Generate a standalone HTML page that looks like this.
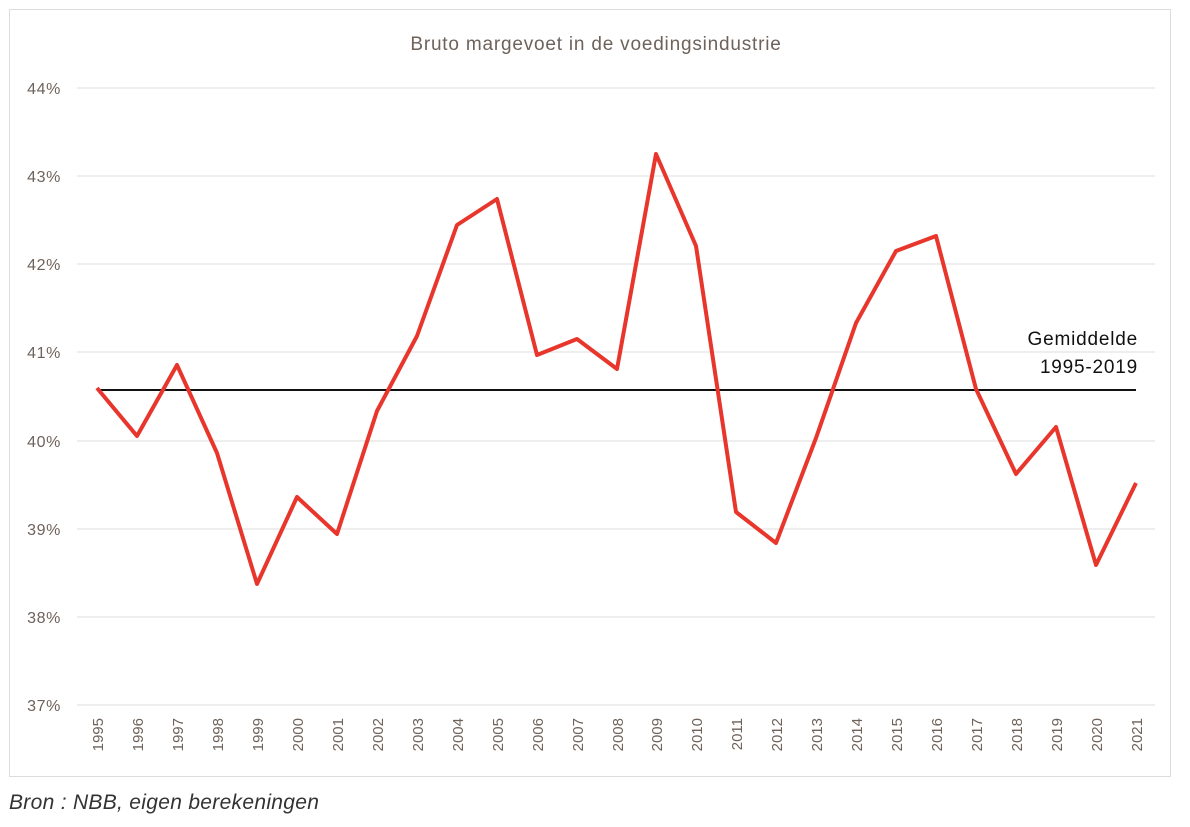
<!DOCTYPE html>
<html><head><style>
body{margin:0;background:#fff;width:1190px;height:827px;overflow:hidden}
svg{display:block;font-family:"Liberation Sans",sans-serif}
</style></head><body>
<svg width="1190" height="827" viewBox="0 0 1190 827">
<rect x="9.5" y="9.5" width="1161" height="767" fill="#fff" stroke="#dcdcdc"/>
<text x="596" y="50" text-anchor="middle" font-size="19" letter-spacing="0.8" fill="#6e625a">Bruto margevoet in de voedingsindustrie</text>
<g stroke="#dddddd" stroke-width="1">
<line x1="77" x2="1155" y1="88" y2="88"/><line x1="77" x2="1155" y1="176" y2="176"/>
<line x1="77" x2="1155" y1="264" y2="264"/><line x1="77" x2="1155" y1="352" y2="352"/>
<line x1="77" x2="1155" y1="441" y2="441"/><line x1="77" x2="1155" y1="529" y2="529"/>
<line x1="77" x2="1155" y1="617" y2="617"/><line x1="77" x2="1155" y1="705" y2="705"/>
</g>
<g font-size="16" letter-spacing="0.6" fill="#6e625a" text-anchor="end">
<text x="61" y="94">44%</text><text x="61" y="182">43%</text><text x="61" y="270">42%</text>
<text x="61" y="358">41%</text><text x="61" y="447">40%</text><text x="61" y="535">39%</text>
<text x="61" y="623">38%</text><text x="61" y="711">37%</text>
</g>
<line x1="97" x2="1136" y1="390" y2="390" stroke="#111" stroke-width="2"/>
<text x="1138" y="345" text-anchor="end" font-size="19" letter-spacing="0.8" fill="#111">Gemiddelde</text>
<text x="1138" y="373" text-anchor="end" font-size="19" letter-spacing="0.8" fill="#111">1995-2019</text>
<polyline fill="none" stroke="#e8362c" stroke-width="4" stroke-linejoin="round" points="97,388 137,436 177,365 217,453 257,584 297,497 337,534 377,411 417,336 457,225 497,199 537,355 577,339 617,369 656,154 696,246 736,512 776,543 816,438 856,323 896,251 936,236 976,389 1016,474 1056,427 1096,565 1136,483"/>
<g font-size="15" fill="#6e625a" text-anchor="end">
<text transform="translate(103,718) rotate(-90)">1995</text>
<text transform="translate(143,718) rotate(-90)">1996</text>
<text transform="translate(183,718) rotate(-90)">1997</text>
<text transform="translate(223,718) rotate(-90)">1998</text>
<text transform="translate(263,718) rotate(-90)">1999</text>
<text transform="translate(303,718) rotate(-90)">2000</text>
<text transform="translate(343,718) rotate(-90)">2001</text>
<text transform="translate(383,718) rotate(-90)">2002</text>
<text transform="translate(423,718) rotate(-90)">2003</text>
<text transform="translate(463,718) rotate(-90)">2004</text>
<text transform="translate(503,718) rotate(-90)">2005</text>
<text transform="translate(543,718) rotate(-90)">2006</text>
<text transform="translate(583,718) rotate(-90)">2007</text>
<text transform="translate(623,718) rotate(-90)">2008</text>
<text transform="translate(662,718) rotate(-90)">2009</text>
<text transform="translate(702,718) rotate(-90)">2010</text>
<text transform="translate(742,718) rotate(-90)">2011</text>
<text transform="translate(782,718) rotate(-90)">2012</text>
<text transform="translate(822,718) rotate(-90)">2013</text>
<text transform="translate(862,718) rotate(-90)">2014</text>
<text transform="translate(902,718) rotate(-90)">2015</text>
<text transform="translate(942,718) rotate(-90)">2016</text>
<text transform="translate(982,718) rotate(-90)">2017</text>
<text transform="translate(1022,718) rotate(-90)">2018</text>
<text transform="translate(1062,718) rotate(-90)">2019</text>
<text transform="translate(1102,718) rotate(-90)">2020</text>
<text transform="translate(1142,718) rotate(-90)">2021</text>
</g>
<text x="9" y="809" font-size="21" font-style="italic" letter-spacing="0.3" fill="#333">Bron : NBB, eigen berekeningen</text>
</svg>
</body></html>
